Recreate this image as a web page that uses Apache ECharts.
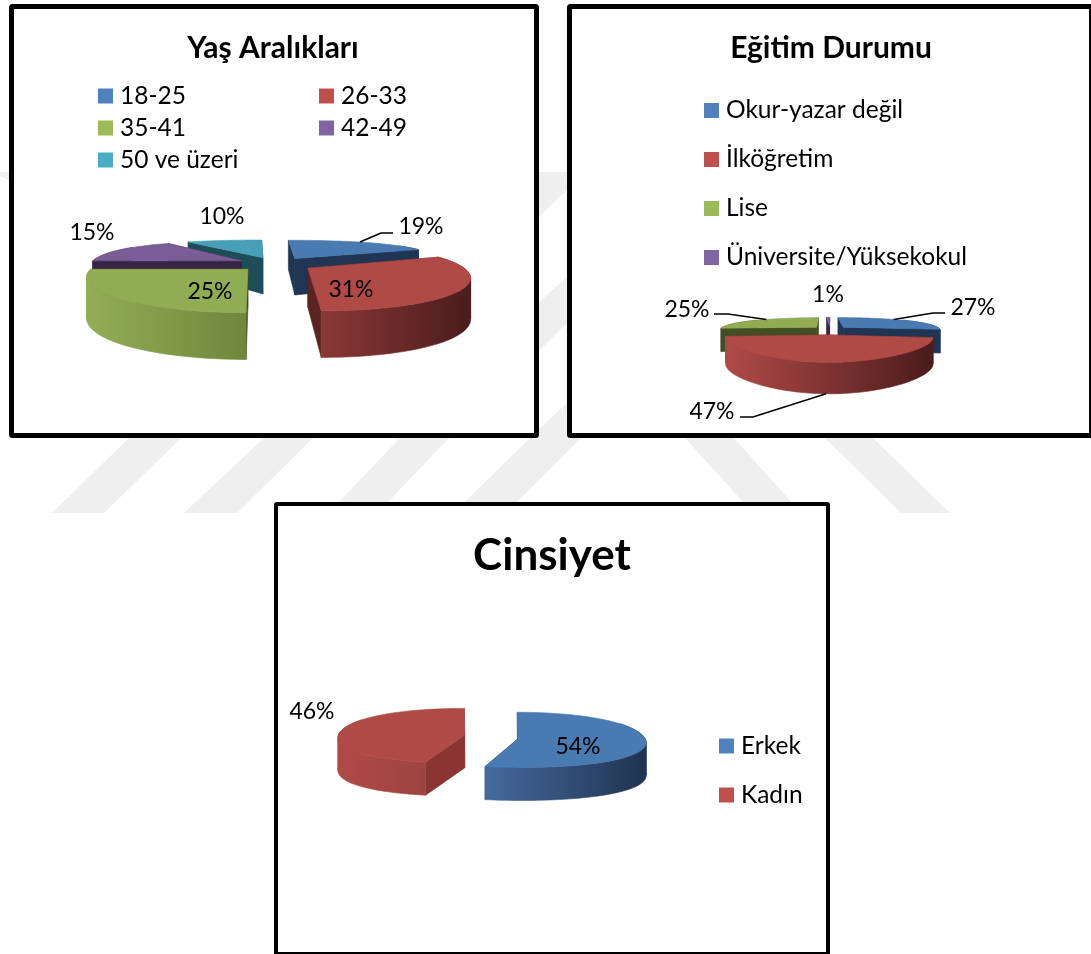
<!DOCTYPE html>
<html><head><meta charset="utf-8">
<style>html,body{margin:0;padding:0;background:#fff}#c{width:1091px;height:954px}</style>
<script src="https://cdn.jsdelivr.net/npm/echarts@6/dist/echarts.min.js"></script>
</head><body><div id="c"></div>
<script>
// ---- data ----
const ageCategories = ['18-25','26-33','35-41','42-49','50 ve üzeri'];
const ageValues = [19,31,25,15,10];
const eduCategories = ['Okur-yazar değil','İlköğretim','Lise','Üniversite/Yüksekokul'];
const eduValues = [27,47,25,1];
const genderCategories = ['Erkek','Kadın'];
const genderValues = [54,46];
const ageTitle = 'Yaş Aralıkları', eduTitle = 'Eğitim Durumu', genderTitle = 'Cinsiyet';

// ---- styles ----
const FONT = 'Lato, Carlito, "Open Sans", sans-serif';
const blue={top:'#4a7ab2',legend:'#4f81bd',inner:'#1f3553'}, red={top:'#b04a47',legend:'#c0504d',inner:'#5a2422'},
      green={top:'#91ad54',legend:'#9bbb59',inner:'#414f22'}, purple={top:'#7a5c96',legend:'#8064a2',inner:'#362643'},
      teal={top:'#47a0b8',legend:'#4bacc6',inner:'#1f4c59'};

// ---- layout: projection of each 3D pie, plus label places ----
const pies = [
 {id:'age',names:ageCategories,values:ageValues,colors:[blue,red,green,purple,teal],
  proj:{cx:275,vx:255,cy:264,rx:152,ry:31,k:.3,ex:.25,ey:.23,kf:.25,kb:.17,h:38,ph:.2},
  walls:[['#1f3553','#1f3553'],['#8a3836','#4a1c1c'],['#92ae55','#6f863c'],['#362643','#362643'],['#1f4c59','#1f4c59']],
  labels:[[421,227],[351,290],[210,292],[92,233],[222,217]],
  leaders:[{z:0,pts:[[381,233],[393,233]]},null,null,null,null]},
 {id:'edu',names:eduCategories,values:eduValues,colors:[blue,red,green,purple],
  proj:{cx:830,vx:830,cy:330,rx:98,ry:18,k:.35,ex:.19,ey:.25,kf:.1,kb:.35,h:24,ph:.25},
  walls:[['#1f3553','#1f3553'],['#b04a47','#4a1c1c'],['#414f22','#414f22'],['#362643','#362643']],
  labels:[[973,308],[712,412],[687,310],[828,295]],
  leaders:[{z:0,pts:[[933,313],[945,313]]},{z:1,pts:[[753,417],[740,417]]},{z:0,pts:[[728,314],[714,314]]},null]},
 {id:'gender',names:genderCategories,values:genderValues,colors:[blue,{top:'#b04a47',legend:'#c0504d',inner:'#8b3532'}],
  proj:{cx:491,vx:491,cy:737,rx:127,ry:27.5,k:.03,ex:.21,ey:.6,kf:.15,kb:0,h:33,ph:0},
  walls:[['#466a9e','#1f3350'],['#b04a47','#9c4340']],
  labels:[[578,747],[312,712]],
  leaders:[null,null]}
];

function project(p,u,v,z){
  const a=(p.kf+p.kb)/2, b=(p.kf-p.kb)/2, f=1-a*v+b*v*v;
  return [p.vx+(p.cx-p.vx+p.rx*u)*f, p.cy-p.ry*v*(1-p.k*v)+z*p.h*(1-p.ph*v)];
}
function sliceRender(pie,idx){
  return function(params,api){
    const startPct=api.value(0), endPct=api.value(1), value=api.value(2);
    const a0=startPct/100*2*Math.PI, a1=endPct/100*2*Math.PI, mid=(a0+a1)/2, p=pie.proj;
    const u0=p.ex*Math.sin(mid), v0=p.ey*Math.cos(mid);
    const rim=(a,z)=>project(p,u0+Math.sin(a),v0+Math.cos(a),z);
    const sweep=(b0,b1,z)=>{const n=Math.max(6,Math.ceil((b1-b0)/0.03)),out=[];
      for(let i=0;i<=n;i++) out.push(rim(b0+(b1-b0)*i/n,z)); return out;};
    const top=sweep(a0,a1,0);
    const c0=project(p,u0,v0,0), c1=project(p,u0,v0,1);
    const col=pie.colors[idx], wall=pie.walls[idx];
    const poly=(pts,fill)=>({type:'polygon',shape:{points:pts},style:{fill:fill,stroke:fill,lineWidth:.6}});
    const kids=[
      poly([c0,rim(a0,0),rim(a0,1),c1],col.inner),
      poly([c0,rim(a1,0),rim(a1,1),c1],col.inner)
    ];
    // the near half of the rim, a little past the sides, shows an outer wall;
    // it is cut at the left and right extremes so no piece folds over itself
    const margin=0.6, w0=Math.max(a0,Math.PI/2-margin), w1=Math.min(a1,Math.PI*1.5+margin);
    if(w1>w0){
      const wt=sweep(w0,w1,0), wb=sweep(w0,w1,1), xs=wt.map(q=>q[0]);
      const minX=Math.min(...xs), maxX=Math.max(...xs);
      const grad={type:'linear',x:minX,y:0,x2:maxX,y2:0,global:true,
        colorStops:[{offset:0,color:wall[0]},{offset:1,color:wall[1]}]};
      const cuts=[0,xs.indexOf(maxX),xs.indexOf(minX),xs.length-1].sort((s,t)=>s-t);
      for(let c=0;c<cuts.length-1;c++){
        if(cuts[c+1]>cuts[c]){
          const tp=wt.slice(cuts[c],cuts[c+1]+1), bt=wb.slice(cuts[c],cuts[c+1]+1).reverse();
          kids.push(poly(tp.concat(bt),grad));
        }
      }
    }
    kids.push(poly([c0].concat(top),col.top));
    const lead=pie.leaders[idx];
    if(lead){
      kids.push({type:'polyline',shape:{points:[rim(mid,lead.z)].concat(lead.pts)},style:{stroke:'#000',fill:'none',lineWidth:1.6}});
    }
    const lb=pie.labels[idx];
    kids.push({type:'text',z2:50,style:{text:value+'%',x:lb[0],y:lb[1],fill:'#000',font:'23px '+FONT,textAlign:'center',textVerticalAlign:'middle'}});
    return {type:'group',children:kids};
  };
}
const series=[];
pies.forEach(pie=>{
  let acc=0;
  const items=pie.values.map((v,i)=>{const it={i,start:acc,end:acc+v,v}; acc+=v; return it;});
  // far slices first so that near slices cover them
  items.sort((a,b)=>Math.cos((b.start+b.end)/100*Math.PI)-Math.cos((a.start+a.end)/100*Math.PI));
  items.forEach(it=>{
    series.push({type:'custom',coordinateSystem:'none',name:pie.names[it.i],
      itemStyle:{color:pie.colors[it.i].legend},silent:true,animation:false,clip:false,
      data:[[it.start,it.end,it.v]],renderItem:sliceRender(pie,it.i)});
  });
});
const frame=(x,y,w,h,lw)=>({type:'rect',shape:{x,y,width:w,height:h,r:1},style:{fill:'#fff',stroke:'#000',lineWidth:lw,lineJoin:'round'},z:1});
const wm='#efefef';
const band=(pts)=>({type:'polygon',shape:{points:pts},style:{fill:wm},z:0});
const legendBase=(data,left,top,gap)=>({data,left,top,padding:0,orient:'vertical',itemWidth:15,itemHeight:15,itemGap:gap,icon:'rect',selectedMode:false,
  textStyle:{fontFamily:FONT,fontSize:24.5,color:'#000',lineHeight:24,padding:[0,0,0,2]}});
const titleOf=(text,left,top,size)=>({text,left,top,padding:0,textAlign:'center',textStyle:{fontFamily:FONT,fontWeight:'bold',fontSize:size,color:'#000'}});

const option={
  animation:false,backgroundColor:'#fff',
  title:[titleOf(ageTitle,273,33,30),titleOf(eduTitle,831,33,30),titleOf(genderTitle,552,534,44)],
  legend:[
    legendBase([ageCategories[0],ageCategories[2],ageCategories[4]],98,83.5,7),
    legendBase([ageCategories[1],ageCategories[3]],319,83.5,7),
    legendBase(eduCategories,704,98,24),
    legendBase(genderCategories,719,733.5,24)
  ],
  graphic:{elements:[
    band([[52,513],[104,513],[181,438],[129,438]]),
    band([[184,513],[237,513],[313,438],[264,438]]),
    band([[337,504],[386,504],[449,438],[400,438]]),
    band([[463,504],[515,504],[581,438],[530,438]]),
    band([[685,438],[734,438],[793,504],[745,504]]),
    band([[825,438],[873,438],[950,513],[901,513]]),
    band([[538,172],[567,172],[567,190],[538,218]]),
    band([[538,303],[567,277],[567,323],[538,352]]),
    band([[538,430],[567,403],[567,438],[538,438]]),
    band([[0,172],[9,172],[9,180],[0,176]]),
    frame(11.5,6.5,525,429,5),
    frame(569.5,6.5,522,429,5),
    frame(276,504,552,450,4)
  ]},
  series
};
echarts.init(document.getElementById('c'),null,{renderer:'canvas'}).setOption(option);
</script></body></html>
